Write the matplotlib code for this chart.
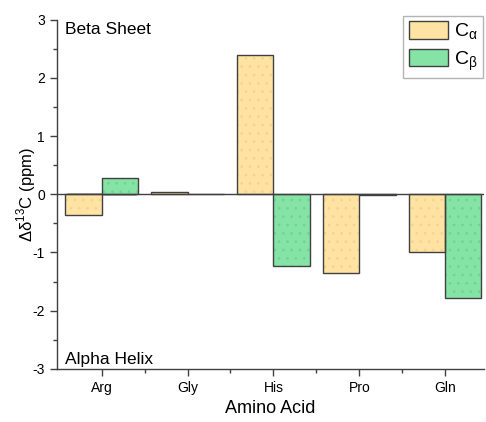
import matplotlib.pyplot as plt
import numpy as np

plt.rcParams["font.family"] = ["Liberation Sans", "DejaVu Sans"]
plt.rcParams["mathtext.fontset"] = "custom"
plt.rcParams["mathtext.rm"] = "Liberation Sans"
plt.rcParams["axes.unicode_minus"] = False
plt.rcParams["hatch.linewidth"] = 0.7

amino = ["Arg", "Gly", "His", "Pro", "Gln"]
c_alpha = [-0.35, 0.04, 2.40, -1.35, -1.00]
c_beta = [0.28, 0.01, -1.23, -0.01, -1.79]

col_a = "#FFE3A3"
col_b = "#85E3A6"
dot_a = "#F5D296"
dot_b = "#6DD595"
edge = "#404040"

fig = plt.figure(figsize=(4.86, 4.22), dpi=100)
ax = fig.add_axes([0.117, 0.126, 0.879, 0.827])

x = np.arange(len(amino))
w = 0.42
# fill, faint dotted texture, then outline on top
ax.bar(x - w / 2, c_alpha, w, color=col_a, linewidth=0, zorder=2)
ax.bar(x + w / 2, c_beta, w, color=col_b, linewidth=0, zorder=2)
ax.bar(x - w / 2, c_alpha, w, fill=False, hatch="..", edgecolor=dot_a, linewidth=0, zorder=3)
ax.bar(x + w / 2, c_beta, w, fill=False, hatch="..", edgecolor=dot_b, linewidth=0, zorder=3)
ax.bar(x - w / 2, c_alpha, w, fill=False, edgecolor=edge, linewidth=1.0, zorder=4)
ax.bar(x + w / 2, c_beta, w, fill=False, edgecolor=edge, linewidth=1.0, zorder=4)
ax.axhline(0, color=edge, linewidth=1.0, zorder=5)

# legend proxies
ax.bar([0], [0], color=col_a, edgecolor=edge, linewidth=1.0, label=r"C$_\mathrm{\alpha}$")
ax.bar([0], [0], color=col_b, edgecolor=edge, linewidth=1.0, label=r"C$_\mathrm{\beta}$")

ax.set_xlim(-0.52, 4.45)
ax.set_ylim(-3, 3)
ax.set_xticks(x)
ax.set_xticklabels(amino)
ax.set_xticks(x[:-1] + 0.5, minor=True)
ax.set_yticks([-3, -2, -1, 0, 1, 2, 3])
ax.set_yticks(np.arange(-2.5, 3, 1), minor=True)
ax.tick_params(axis="both", which="major", direction="out", length=5, width=1, color=edge, labelsize=10)
ax.tick_params(axis="both", which="minor", direction="out", length=3, width=1, color=edge)
for s in ["top", "right"]:
    ax.spines[s].set_visible(False)
for s in ["left", "bottom"]:
    ax.spines[s].set_color(edge)
    ax.spines[s].set_linewidth(1.0)

ax.set_xlabel("Amino Acid", fontsize=13)
ax.set_ylabel("Δδ$^{13}$C (ppm)", fontsize=12, labelpad=-4)

ax.text(0.02, 0.995, "Beta Sheet", transform=ax.transAxes, fontsize=12.5, va="top", ha="left")
ax.text(0.02, 0.005, "Alpha Helix", transform=ax.transAxes, fontsize=12.5, va="bottom", ha="left")

leg = ax.legend(loc="upper right", bbox_to_anchor=(0.998, 1.012), borderaxespad=0, fontsize=14,
                fancybox=False, edgecolor="#A0A0A0", handlelength=2.0, handleheight=1.0,
                handletextpad=0.3, borderpad=0.3, labelspacing=0.35)
leg.get_frame().set_linewidth(1.0)

fig.savefig("out.png", dpi=100)
